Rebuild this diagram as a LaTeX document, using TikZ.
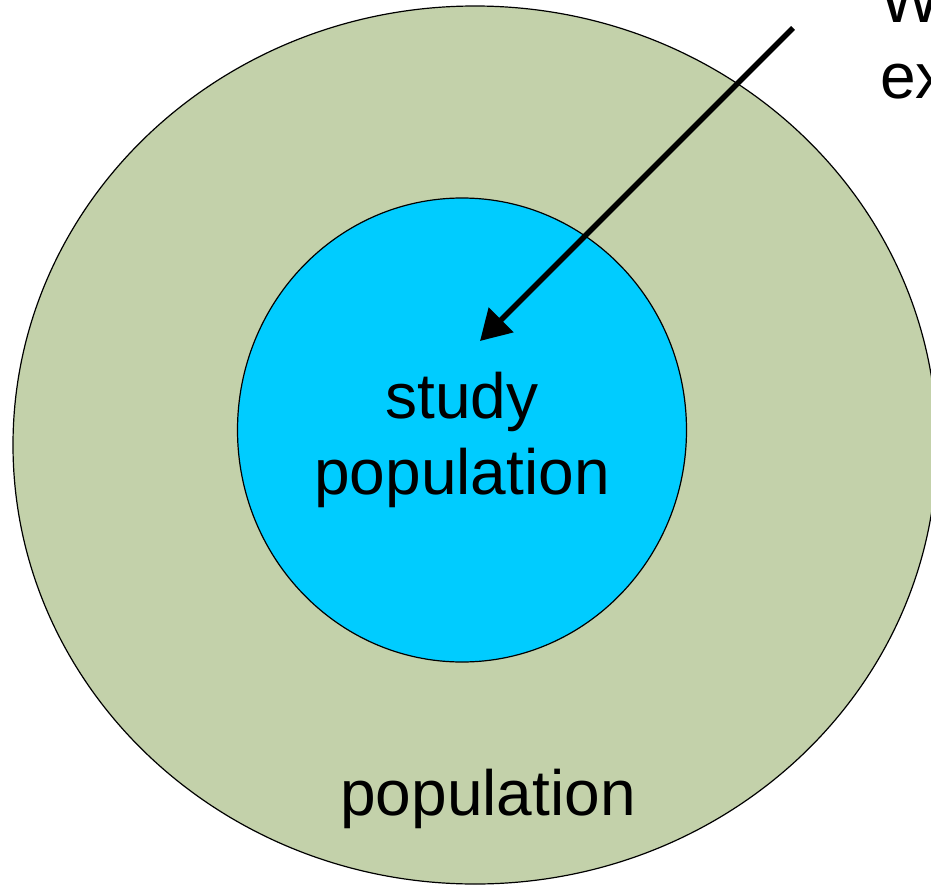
\documentclass[tikz,border=0pt]{standalone}
\usepackage{fontspec}
\setmainfont{Liberation Sans}
\usetikzlibrary{arrows.meta}
\definecolor{popgreen}{RGB}{195,209,170}
\definecolor{studycyan}{RGB}{0,204,255}
\begin{document}
\begin{tikzpicture}[x=1pt,y=-1pt,
  ring/.style={draw=black,line width=1.2pt},
  lbl/.style={font=\fontsize{64}{76}\selectfont,align=center,inner sep=0pt},
  pointer/.style={line width=5.5pt,-{Triangle[length=30pt,width=34pt]}}]
\useasboundingbox (0,0) rectangle (931,886);
\draw[ring,fill=popgreen] (475,445) ellipse [x radius=462, y radius=439];
\draw[ring,fill=studycyan] (462,430) ellipse [x radius=224.5, y radius=232];
\node[lbl] (study) at (462,440) {study\\population};
\node[lbl] (pop) at (488,799) {population};
\node[lbl,anchor=base west] (w) at (880,22) {W};
\node[lbl,anchor=base west] (ex) at (880,98) {ex};
\coordinate (start) at (793,28);
\coordinate (tip) at (480,341);
\draw[pointer] (start) -- (tip);
\end{tikzpicture}
\end{document}
